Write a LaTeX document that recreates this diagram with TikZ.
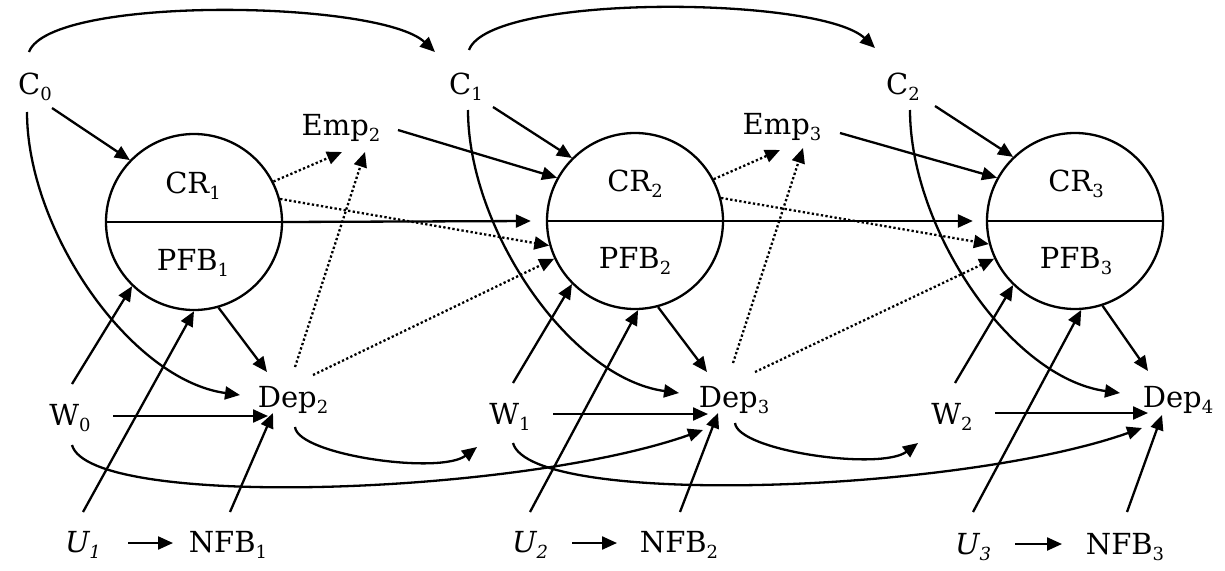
\documentclass[tikz,border=0pt]{standalone}
\usepackage{fontspec}
\setmainfont{DejaVu Serif}
\usetikzlibrary{arrows.meta}
\newcommand{\lsub}[1]{\raisebox{-6pt}{\fontsize{18}{18}\selectfont #1}}
\begin{document}
\begin{tikzpicture}[x=1pt,y=-1pt,
  lbl/.style={inner sep=0pt, font=\fontsize{29}{34}\selectfont},
  ring/.style={circle, draw, line width=2.3pt, minimum size=176pt, inner sep=0pt},
  plain/.style={line width=2.3pt},
  arr/.style={line width=2.3pt, -{Triangle[length=15pt,width=13pt]}},
  dots/.style={arr, dash pattern=on 2.3pt off 2.3pt}]
\fill[white, use as bounding box] (0,0) rectangle (1225,570);
% nodes
\node[lbl] (C0) at (35,87) {C\lsub{0}};
\node[lbl] (C1) at (466,87) {C\lsub{1}};
\node[lbl] (C2) at (903,87) {C\lsub{2}};
\node[lbl] (E2) at (341,128) {Emp\lsub{2}};
\node[lbl] (E3) at (782,127) {Emp\lsub{3}};
\node[ring] (cr1) at (194,222) {};
\node[ring] (cr2) at (635,221) {};
\node[ring] (cr3) at (1075,221) {};
\node[lbl] (cr1t) at (193,186) {CR\lsub{1}};
\node[lbl] (pfb1) at (193,263) {PFB\lsub{1}};
\node[lbl] (cr2t) at (635,184) {CR\lsub{2}};
\node[lbl] (pfb2) at (635,261) {PFB\lsub{2}};
\node[lbl] (cr3t) at (1076,184) {CR\lsub{3}};
\node[lbl] (pfb3) at (1076,261) {PFB\lsub{3}};
\node[lbl] (D2) at (293,400) {Dep\lsub{2}};
\node[lbl] (D3) at (734,400) {Dep\lsub{3}};
\node[lbl] (D4) at (1178,400) {Dep\lsub{4}};
\node[lbl] (W0) at (70,418) {W\lsub{0}};
\node[lbl] (W1) at (510,417) {W\lsub{1}};
\node[lbl] (W2) at (952,417) {W\lsub{2}};
\node[lbl] (U1) at (83,545) {\itshape U\lsub{1}};
\node[lbl] (N1) at (228,545) {NFB\lsub{1}};
\node[lbl] (U2) at (530,545) {\itshape U\lsub{2}};
\node[lbl] (N2) at (679,545) {NFB\lsub{2}};
\node[lbl] (U3) at (973,547) {\itshape U\lsub{3}};
\node[lbl] (N3) at (1125,547) {NFB\lsub{3}};
% top arcs
\draw[arr] ([shift={(-6,-35)}]C0.center) .. controls +(21,-57) and +(-55,-52) .. ([shift={(-31,-35)}]C1.center);
\draw[arr] ([shift={(3,-37)}]C1.center) .. controls +(21,-57) and +(-55,-52) .. ([shift={(-28,-39)}]C2.center);
% C -> CR
\draw[arr] ([shift={(17,21)}]C0.center) -- (cr1.136);
\draw[arr] ([shift={(27,20)}]C1.center) -- (cr2.135);
\draw[arr] ([shift={(32,19)}]C2.center) -- (cr3.134);
% C -> Dep
\draw[arr] ([shift={(-8,25)}]C0.center) .. controls +(0,118) and +(-110,-15) .. ([shift={(-53,-5)}]D2.center);
\draw[arr] ([shift={(2,23)}]C1.center) .. controls +(0,118) and +(-110,-15) .. ([shift={(-55,-7)}]D3.center);
\draw[arr] ([shift={(7,23)}]C2.center) .. controls +(0,118) and +(-110,-15) .. ([shift={(-58,-7)}]D4.center);
% Emp -> CR
\draw[arr] ([shift={(57,2)}]E2.center) -- (cr2.151);
\draw[arr] ([shift={(58,6)}]E3.center) -- (cr3.151);
% dotted
\draw[dots] (cr1.27) -- ([shift={(1,24)}]E2.center);
\draw[dots] ([shift={(2,-33)}]D2.center) -- ([shift={(24,24)}]E2.center);
\draw[dots] (cr1.15) -- (cr2.196);
\draw[dots] ([shift={(20,-25)}]D2.center) -- (cr2.205);
\draw[dots] (cr2.28) -- ([shift={(-2,23)}]E3.center);
\draw[dots] ([shift={(-1,-37)}]D3.center) -- ([shift={(21,21)}]E3.center);
\draw[dots] (cr2.15) -- (cr3.195);
\draw[dots] ([shift={(21,-28)}]D3.center) -- (cr3.205);
% dividers
\draw[plain] (cr1.west) -- (cr1.east);
\draw[plain] (cr2.west) -- (cr2.east);
\draw[plain] (cr3.west) -- (cr3.east);
\draw[arr] (cr1.east) -- ([xshift=-15pt]cr2.west);
\draw[arr] (cr2.east) -- ([xshift=-13pt]cr3.west);
% CR -> Dep
\draw[arr] (cr1.286) -- ([shift={(-26,-28)}]D2.center);
\draw[arr] (cr2.285) -- ([shift={(-27,-28)}]D3.center);
\draw[arr] (cr3.288) -- ([shift={(-30,-29)}]D4.center);
% W -> PFB
\draw[arr] ([shift={(2,-34)}]W0.center) -- (cr1.226);
\draw[arr] ([shift={(3,-34)}]W1.center) -- (cr2.225);
\draw[arr] ([shift={(3,-34)}]W2.center) -- (cr3.226);
% U -> PFB
\draw[arr] ([shift={(0,-33)}]U1.center) -- (cr1.270);
\draw[arr] ([shift={(0,-33)}]U2.center) -- (cr2.272);
\draw[arr] ([shift={(0,-35)}]U3.center) -- (cr3.274);
% U -> NFB
\draw[arr] ([shift={(45,-2)}]U1.center) -- ([shift={(-55,-2)}]N1.center);
\draw[arr] ([shift={(42,-2)}]U2.center) -- ([shift={(-62,-2)}]N2.center);
\draw[arr] ([shift={(42,-3)}]U3.center) -- ([shift={(-63,-3)}]N3.center);
% NFB -> Dep
\draw[arr] ([shift={(2,-33)}]N1.center) -- ([shift={(-20,13)}]D2.center);
\draw[arr] ([shift={(1,-33)}]N2.center) -- ([shift={(-16,13)}]D3.center);
\draw[arr] ([shift={(2,-35)}]N3.center) -- ([shift={(-16,15)}]D4.center);
% W -> Dep (same period)
\draw[arr] ([shift={(43,-2)}]W0.center) -- ([shift={(-25,16)}]D2.center);
\draw[arr] ([shift={(43,-3)}]W1.center) -- ([shift={(-26,14)}]D3.center);
\draw[arr] ([shift={(43,-4)}]W2.center) -- ([shift={(-30,13)}]D4.center);
% W -> Dep (next period)
\draw[arr] ([shift={(2,27)}]W0.center) .. controls +(18,65) and +(-183,65) .. ([shift={(-31,30)}]D3.center);
\draw[arr] ([shift={(3,26)}]W1.center) .. controls +(18,65) and +(-183,65) .. ([shift={(-36,28)}]D4.center);
% Dep -> W
\draw[arr] ([shift={(2,27)}]D2.center) .. controls +(3,28) and +(-37,28) .. ([shift={(-33,30)}]W1.center);
\draw[arr] ([shift={(1,23)}]D3.center) .. controls +(3,28) and +(-37,28) .. ([shift={(-34,26)}]W2.center);
\end{tikzpicture}
\end{document}
